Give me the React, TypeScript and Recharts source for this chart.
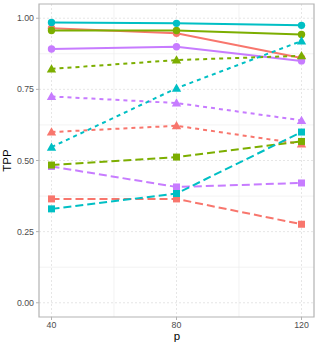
import React from 'react';
import {
  LineChart,
  Line,
  XAxis,
  YAxis,
  CartesianGrid,
  ReferenceArea,
  Label,
} from 'recharts';

// x positions
const pValues = [40, 80, 120];

// solid lines with circles
const redCircle = [0.965, 0.947, 0.86];
const greenCircle = [0.957, 0.957, 0.943];
const cyanCircle = [0.985, 0.982, 0.975];
const purpleCircle = [0.892, 0.9, 0.85];

// short dashes with triangles
const redTriangle = [0.6, 0.622, 0.558];
const greenTriangle = [0.822, 0.853, 0.868];
const cyanTriangle = [0.547, 0.754, 0.92];
const purpleTriangle = [0.725, 0.702, 0.641];

// long dashes with squares
const redSquare = [0.365, 0.365, 0.276];
const greenSquare = [0.484, 0.512, 0.567];
const cyanSquare = [0.33, 0.384, 0.6];
const purpleSquare = [0.479, 0.407, 0.421];

const yTicks = [0, 0.25, 0.5, 0.75, 1];
const yMinor = [0.125, 0.375, 0.625, 0.875];
const xMinor = [60, 100];

const RED = '#F8766D';
const GREEN = '#7CAE00';
const CYAN = '#00BFC4';
const PURPLE = '#C77CFF';

const data = pValues.map((p, i) => ({
  p,
  redCircle: redCircle[i],
  greenCircle: greenCircle[i],
  cyanCircle: cyanCircle[i],
  purpleCircle: purpleCircle[i],
  redTriangle: redTriangle[i],
  greenTriangle: greenTriangle[i],
  cyanTriangle: cyanTriangle[i],
  purpleTriangle: purpleTriangle[i],
  redSquare: redSquare[i],
  greenSquare: greenSquare[i],
  cyanSquare: cyanSquare[i],
  purpleSquare: purpleSquare[i],
}));

const circleDot = (color: string) => (props: any) => (
  <circle key={props.key ?? props.index} cx={props.cx} cy={props.cy} r={3.7} fill={color} />
);

const triangleDot = (color: string) => (props: any) => {
  const { cx, cy } = props;
  const s = 4.7;
  return (
    <polygon
      key={props.key ?? props.index}
      points={`${cx},${cy - s} ${cx - s},${cy + s * 0.75} ${cx + s},${cy + s * 0.75}`}
      fill={color}
    />
  );
};

const squareDot = (color: string) => (props: any) => {
  const { cx, cy } = props;
  const s = 3.5;
  return <rect key={props.key ?? props.index} x={cx - s} y={cy - s} width={s * 2} height={s * 2} fill={color} />;
};

const SHORT = '4 4';
const LONG = '8 4';

const series = [
  { key: 'redCircle', color: RED, dash: undefined, dot: circleDot(RED) },
  { key: 'redTriangle', color: RED, dash: SHORT, dot: triangleDot(RED) },
  { key: 'redSquare', color: RED, dash: LONG, dot: squareDot(RED) },
  { key: 'purpleCircle', color: PURPLE, dash: undefined, dot: circleDot(PURPLE) },
  { key: 'purpleTriangle', color: PURPLE, dash: SHORT, dot: triangleDot(PURPLE) },
  { key: 'purpleSquare', color: PURPLE, dash: LONG, dot: squareDot(PURPLE) },
  { key: 'greenCircle', color: GREEN, dash: undefined, dot: circleDot(GREEN) },
  { key: 'greenTriangle', color: GREEN, dash: SHORT, dot: triangleDot(GREEN) },
  { key: 'greenSquare', color: GREEN, dash: LONG, dot: squareDot(GREEN) },
  { key: 'cyanCircle', color: CYAN, dash: undefined, dot: circleDot(CYAN) },
  { key: 'cyanTriangle', color: CYAN, dash: SHORT, dot: triangleDot(CYAN) },
  { key: 'cyanSquare', color: CYAN, dash: LONG, dot: squareDot(CYAN) },
];

const tickStyle = { fill: '#4d4d4d', fontSize: 8.8, fontFamily: 'Liberation Sans, Arial, sans-serif' };

const App: React.FC = () => {
  return (
    <div style={{ position: 'absolute', left: 0, top: 0, background: '#fff' }}>
      <LineChart width={319} height={348} data={data} margin={{ top: 4, right: 5, left: 0, bottom: 0 }}>
        <CartesianGrid horizontalValues={yMinor} verticalValues={xMinor} stroke="#ededed" strokeWidth={0.7} />
        <CartesianGrid horizontalValues={yTicks} verticalValues={pValues} stroke="#e3e3e3" strokeWidth={0.9} strokeDasharray="2 2" />
        <XAxis
          dataKey="p"
          type="number"
          domain={[36, 124]}
          ticks={pValues}
          allowDataOverflow
          axisLine={false}
          tickLine={{ stroke: '#b3b3b3' }}
          tickSize={3}
          tickMargin={2}
          tick={tickStyle}
          height={31}
        >
          <Label
            content={() => (
              <text x={177} y={340} textAnchor="middle" fontSize={11.5} fill="#000" fontFamily="Liberation Sans, Arial, sans-serif">
                p
              </text>
            )}
          />
        </XAxis>
        <YAxis
          type="number"
          domain={[-0.05, 1.05]}
          ticks={yTicks}
          allowDataOverflow
          axisLine={false}
          tickLine={{ stroke: '#b3b3b3' }}
          tickSize={3}
          tickMargin={2}
          tick={tickStyle}
          tickFormatter={(v: number) => v.toFixed(2)}
          width={39}
        >
          <Label
            content={() => (
              <text
                x={11}
                y={160.5}
                transform="rotate(-90 11 160.5)"
                textAnchor="middle"
                fontSize={11.5}
                fill="#000"
                fontFamily="Liberation Sans, Arial, sans-serif"
              >
                TPP
              </text>
            )}
          />
        </YAxis>
        <ReferenceArea x1={36} x2={124} y1={-0.05} y2={1.05} fill="none" stroke="#b3b3b3" strokeWidth={1.2} />
        {series.map((s) => (
          <Line
            key={s.key}
            dataKey={s.key}
            stroke={s.color}
            strokeWidth={2}
            strokeDasharray={s.dash}
            dot={s.dot}
            activeDot={false}
            isAnimationActive={false}
          />
        ))}
      </LineChart>
    </div>
  );
};

export default App;
